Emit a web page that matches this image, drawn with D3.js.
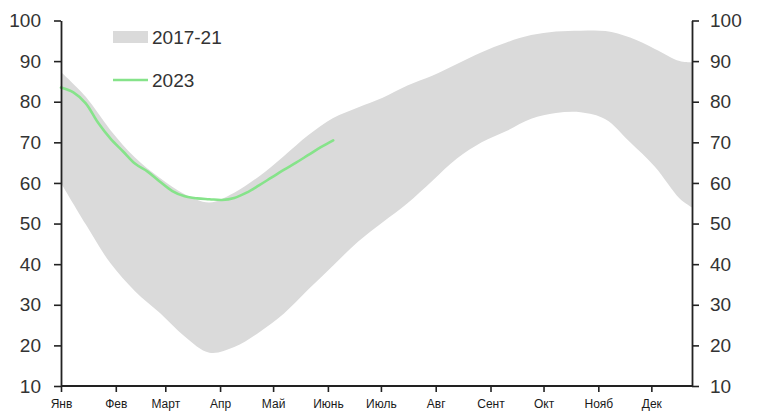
<!DOCTYPE html>
<html>
<head>
<meta charset="utf-8">
<script src="https://cdn.jsdelivr.net/npm/d3@7"></script>
<style>
  html, body { margin: 0; padding: 0; background: #fff; }
  svg { display: block; }
</style>
</head>
<body>
<svg id="chart" width="758" height="419"></svg>
<script>
// ---- data ----
const monthLabels = ["Янв","Фев","Март","Апр","Май","Июнь","Июль","Авг","Сент","Окт","Нояб","Дек"];
const monthStartDays = [0,31,59,90,120,151,181,212,243,273,304,334];
const yTicks = [10,20,30,40,50,60,70,80,90,100];

// band 2017-21 (day of year)
const bandDays  = [0,14,28,42,56,70,84,98,112,126,140,154,168,182,196,210,224,238,252,266,280,294,308,322,336,350,357];
const bandUpper = [87.3,81.2,73.0,66.2,61.2,57.2,55.2,57.6,61.6,66.6,71.8,76.0,78.6,81.0,84.0,86.4,89.3,92.2,94.6,96.4,97.3,97.5,97.4,95.8,93.0,90.0,89.7];
const bandLower = [60.0,49.8,40.2,33.3,28.0,22.2,18.2,19.6,23.2,27.8,33.8,39.7,45.5,50.3,55.0,60.5,66.0,70.0,72.8,75.8,77.2,77.4,75.7,70.0,64.0,56.2,54.0];

// 2023 weekly
const lineDays = [0,7,14,21,28,35,42,49,56,63,70,77,84,91,98,105,112,119,126,133,140,147,154];
const line2023 = [83.5,82.3,79.6,74.8,70.9,67.8,64.7,62.8,60.3,58.0,56.7,56.2,56.0,55.8,56.3,57.6,59.4,61.3,63.2,65.0,66.9,68.8,70.5];

// ---- chart ----
const svg = d3.select("#chart");
const x = d3.scaleLinear().domain([0, 357]).range([61, 692]);
const y = d3.scaleLinear().domain([10, 100]).range([386, 20.5]);

const bandData = bandDays.map((d, i) => ({d, lo: bandLower[i], hi: bandUpper[i]}));
svg.append("path")
  .datum(bandData)
  .attr("fill", "#dadada")
  .attr("d", d3.area().curve(d3.curveCatmullRom.alpha(0.5))
    .x(p => x(p.d)).y0(p => y(p.lo)).y1(p => y(p.hi)));

const lineData = lineDays.map((d, i) => ({d, v: line2023[i]}));
svg.append("path")
  .datum(lineData)
  .attr("fill", "none")
  .attr("stroke", "#86e38a")
  .attr("stroke-width", 2.6)
  .attr("stroke-linejoin", "round")
  .attr("stroke-linecap", "round")
  .attr("d", d3.line().curve(d3.curveCatmullRom.alpha(0.5)).x(p => x(p.d)).y(p => y(p.v)));

// axes
const axisColor = "#222";
const textColor = "#333";

function styleAxis(g, fontSize, family, color) {
  g.select(".domain").attr("stroke", axisColor).attr("stroke-width", 1.8);
  g.selectAll(".tick line").attr("stroke", axisColor).attr("stroke-width", 1.6);
  g.selectAll(".tick text").attr("fill", color)
    .style("font-size", fontSize + "px").style("font-family", family);
}

const yl = svg.append("g").attr("transform", "translate(61,0)")
  .call(d3.axisLeft(y).tickValues(yTicks).tickSize(7).tickSizeOuter(0).tickPadding(13));
styleAxis(yl, 19, "'Liberation Sans', Arial, sans-serif", textColor);

const yr = svg.append("g").attr("transform", "translate(692,0)")
  .call(d3.axisRight(y).tickValues(yTicks).tickSize(7).tickSizeOuter(0).tickPadding(11));
styleAxis(yr, 19, "'Liberation Sans', Arial, sans-serif", textColor);

const xb = svg.append("g").attr("transform", "translate(0,386)")
  .call(d3.axisBottom(x).tickValues(monthStartDays)
    .tickFormat((d, i) => monthLabels[i]).tickSize(6).tickSizeOuter(0).tickPadding(7));
styleAxis(xb, 12, "'Liberation Sans', Arial, sans-serif", "#1a1a1a");
xb.select(".domain").attr("d", "M61,0H692");

// legend
const lg = svg.append("g");
lg.append("rect").attr("x", 113).attr("y", 31).attr("width", 35).attr("height", 12).attr("fill", "#dadada");
lg.append("text").attr("x", 152).attr("y", 44).text("2017-21")
  .attr("fill", textColor).style("font-size", "19px").style("font-family", "'Liberation Sans', Arial, sans-serif");
lg.append("line").attr("x1", 113).attr("x2", 148).attr("y1", 80).attr("y2", 80)
  .attr("stroke", "#86e38a").attr("stroke-width", 2.6);
lg.append("text").attr("x", 152).attr("y", 87).text("2023")
  .attr("fill", textColor).style("font-size", "19px").style("font-family", "'Liberation Sans', Arial, sans-serif");
</script>
</body>
</html>
